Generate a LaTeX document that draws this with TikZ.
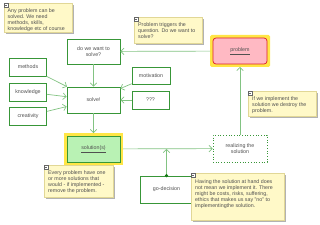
\documentclass[tikz,border=0pt]{standalone}
\usepackage{fontspec}
\setmainfont{Liberation Sans}
\usetikzlibrary{arrows.meta,calc,shadows}
\definecolor{boxgreen}{RGB}{56,150,56}
\definecolor{linegreen}{RGB}{130,195,130}
\definecolor{txtgray}{RGB}{80,80,80}
\definecolor{notefill}{RGB}{255,249,200}
\definecolor{notedraw}{RGB}{225,215,150}
\definecolor{pinkfill}{RGB}{255,185,195}
\definecolor{redline}{RGB}{220,30,40}
\definecolor{halo}{RGB}{255,230,70}
\definecolor{greenfill}{RGB}{185,242,180}
\definecolor{dotgreen}{RGB}{20,120,20}
\tikzset{
  every node/.style={font=\fontsize{5.3}{6.2}\selectfont, text=txtgray},
  box/.style={draw=boxgreen, line width=0.7pt, fill=white, align=center, inner sep=1pt},
  note/.style={fill=notefill, draw=notedraw, line width=0.3pt, drop shadow={shadow xshift=1.6pt, shadow yshift=-1.6pt, fill=black!30, opacity=1}, inner sep=0pt},
  notetext/.style={anchor=north west, align=left, inner sep=0pt},
  icon/.style={draw=black!60, fill=white, line width=0.3pt, minimum size=3.6pt, inner sep=0pt, anchor=north west,
    path picture={\draw[black!60, line width=0.3pt] ($(path picture bounding box.west)+(0.8pt,0)$) -- ($(path picture bounding box.east)+(-0.8pt,0)$);}},
  conn/.style={draw=linegreen, line width=0.7pt, -{Straight Barb[length=3.2pt,width=6.5pt,line width=0.7pt]}},
}
\begin{document}
\begin{tikzpicture}[x=1pt,y=-1pt]
\useasboundingbox (0,0) rectangle (320,224);

% notes
\node[note, minimum width=68pt, minimum height=29pt, anchor=north west] (n1) at (4,3) {};
\node[notetext] (n1t) at (7.5,8) {Any problem can be\\solved. We need\\methods, skills,\\knowledge etc of course};
\node[icon] (n1i) at (n1.north west) {};

\node[note, minimum width=68pt, minimum height=26pt, anchor=north west] (n2) at (134,17) {};
\node[notetext] (n2t) at (138,22) {Problem triggers the\\question. Do we want to\\solve?};
\node[icon] (n2i) at (n2.north west) {};

% boxes
\node[box, minimum width=53pt, minimum height=25pt] (want) at (93.5,51.5) {do we want to\\solve?};
\fill[halo, rounded corners=1.5pt] (210,35) rectangle (270,67);
\node[box, draw=redline, fill=pinkfill, rounded corners=3pt, minimum width=54pt, minimum height=26pt, outer sep=3pt] (problem) at (240,51) {\underline{problem}};

\node[box, minimum width=37pt, minimum height=18pt] (methods) at (28,67) {methods};
\node[box, minimum width=37pt, minimum height=18pt] (knowledge) at (28,92) {knowledge};
\node[box, minimum width=37pt, minimum height=18pt] (creativity) at (28,116) {creativity};
\node[box, minimum width=53pt, minimum height=26pt] (solve) at (93.5,100) {solve!};
\node[box, minimum width=38pt, minimum height=17pt] (motivation) at (151,75.5) {motivation};
\node[box, minimum width=37pt, minimum height=18pt] (qqq) at (150.5,100) {???};

\fill[halo] (64,133) rectangle (123,165);
\node[box, fill=greenfill, minimum width=53pt, minimum height=26pt, outer sep=3pt] (solution) at (93.5,149) {\underline{solution(s)}};
\node[box, dotted, line width=0.7pt, minimum width=54pt, minimum height=27pt] (realize) at (240,148.5) {realizing the\\solution};

\node[note, minimum width=68pt, minimum height=25pt, anchor=north west] (n3) at (248,91) {};
\node[notetext] (n3t) at (252,96) {If we implement the\\solution we destroy the\\problem.};
\node[icon] (n3i) at (n3.north west) {};

\node[box, minimum width=53pt, minimum height=27pt] (go) at (166.5,189.5) {go-decision};
\coordinate (gomeet) at (166.5,149);

\node[note, minimum width=69pt, minimum height=32pt, anchor=north west] (n5) at (44,165) {};
\node[notetext] (n5t) at (48,170) {Every problem have one\\or more solutions that\\would - if implemented -\\remove the problem.};
\node[icon] (n5i) at (n5.north west) {};

\node[note, minimum width=93pt, minimum height=47pt, anchor=north west] (n4) at (191,173) {};
\node[notetext] (n4t) at (195,179) {Having the solution at hand does\\not mean we implement it. There\\might be costs, risks, suffering,\\ethics that makes us say "no" to\\implementingthe solution.};
\node[icon] (n4i) at (n4.north west) {};

% connectors
\draw[conn] (problem) -- (want);
\draw[conn] (want) -- (solve);
\draw[conn] (methods) -- (solve);
\draw[conn] (knowledge) -- (solve);
\draw[conn] (creativity) -- (solve);
\draw[conn] (motivation) -- (solve);
\draw[conn] (qqq) -- (solve);
\draw[conn] (solve) -- (solution);
\draw[conn] (solution) -- (realize);
\draw[conn] (realize) -- (problem);
\draw[conn] (go.north) -- (gomeet);
\fill[dotgreen] (go.north) circle (1.7pt);
\end{tikzpicture}
\end{document}
